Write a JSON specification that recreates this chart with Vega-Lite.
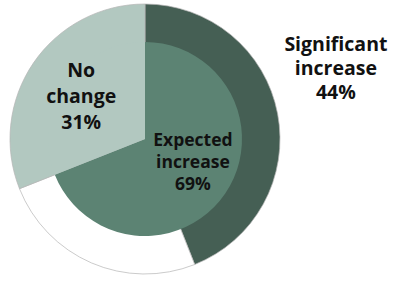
{
  "$schema": "https://vega.github.io/schema/vega-lite/v6.json",
  "width": 290,
  "height": 278,
  "autosize": {"type": "none"},
  "padding": {"left": 0, "top": 0, "right": 108, "bottom": 3},
  "background": "white",
  "config": {"view": {"stroke": null}},
  "datasets": {
    "outer": [
      {"segment": "Significant increase", "value": 44, "seq": 1, "label": "Significant\nincrease\n44%"},
      {"segment": "Other expected increase", "value": 25, "seq": 2, "label": ""},
      {"segment": "No change", "value": 31, "seq": 3, "label": ""}
    ],
    "inner": [
      {"segment": "Expected increase", "value": 69, "seq": 1, "label": "Expected\nincrease\n69%"},
      {"segment": "No change", "value": 31, "seq": 2, "label": "No\nchange\n31%"}
    ]
  },
  "layer": [
    {
      "data": {"name": "outer"},
      "mark": {"type": "arc", "radius": 135, "stroke": "#b4b4b4", "strokeWidth": 0.7},
      "encoding": {
        "theta": {"field": "value", "type": "quantitative", "stack": true},
        "order": {"field": "seq", "type": "ordinal"},
        "color": {
          "field": "segment", "type": "nominal", "legend": null,
          "scale": {
            "domain": ["Significant increase", "Other expected increase", "No change", "Expected increase"],
            "range": ["#455f54", "#ffffff", "#b2c8c0", "#5c8373"]
          }
        }
      }
    },
    {
      "data": {"name": "inner"},
      "mark": {"type": "arc", "radius": 97},
      "encoding": {
        "theta": {"field": "value", "type": "quantitative", "stack": true},
        "order": {"field": "seq", "type": "ordinal"},
        "color": {"field": "segment", "type": "nominal", "legend": null}
      }
    },
    {
      "data": {"name": "outer"},
      "mark": {"type": "text", "radius": 213, "thetaOffset": -0.271, "font": "Open Sans", "fontWeight": "bold", "fontSize": 19.5, "lineHeight": 24, "lineBreak": "\n", "align": "center", "baseline": "middle", "color": "#111111"},
      "encoding": {
        "theta": {"field": "value", "type": "quantitative", "stack": true},
        "order": {"field": "seq", "type": "ordinal"},
        "text": {"field": "label", "type": "nominal"}
      }
    },
    {
      "data": {"name": "inner"},
      "mark": {"type": "text", "radius": 48, "thetaOffset": -0.545, "font": "Open Sans", "fontWeight": "bold", "fontSize": 17.5, "lineHeight": 22, "lineBreak": "\n", "align": "center", "baseline": "middle", "color": "#111111"},
      "encoding": {
        "theta": {"field": "value", "type": "quantitative", "stack": true},
        "order": {"field": "seq", "type": "ordinal"},
        "text": {"condition": {"test": "datum.segment === 'Expected increase'", "field": "label", "type": "nominal"}, "value": ""}
      }
    },
    {
      "data": {"name": "inner"},
      "mark": {"type": "text", "radius": 93, "thetaOffset": 0.218, "font": "Open Sans", "fontWeight": "bold", "fontSize": 19.5, "lineHeight": 26, "lineBreak": "\n", "align": "center", "baseline": "middle", "color": "#111111"},
      "encoding": {
        "theta": {"field": "value", "type": "quantitative", "stack": true},
        "order": {"field": "seq", "type": "ordinal"},
        "text": {"condition": {"test": "datum.segment === 'No change'", "field": "label", "type": "nominal"}, "value": ""}
      }
    }
  ]
}
